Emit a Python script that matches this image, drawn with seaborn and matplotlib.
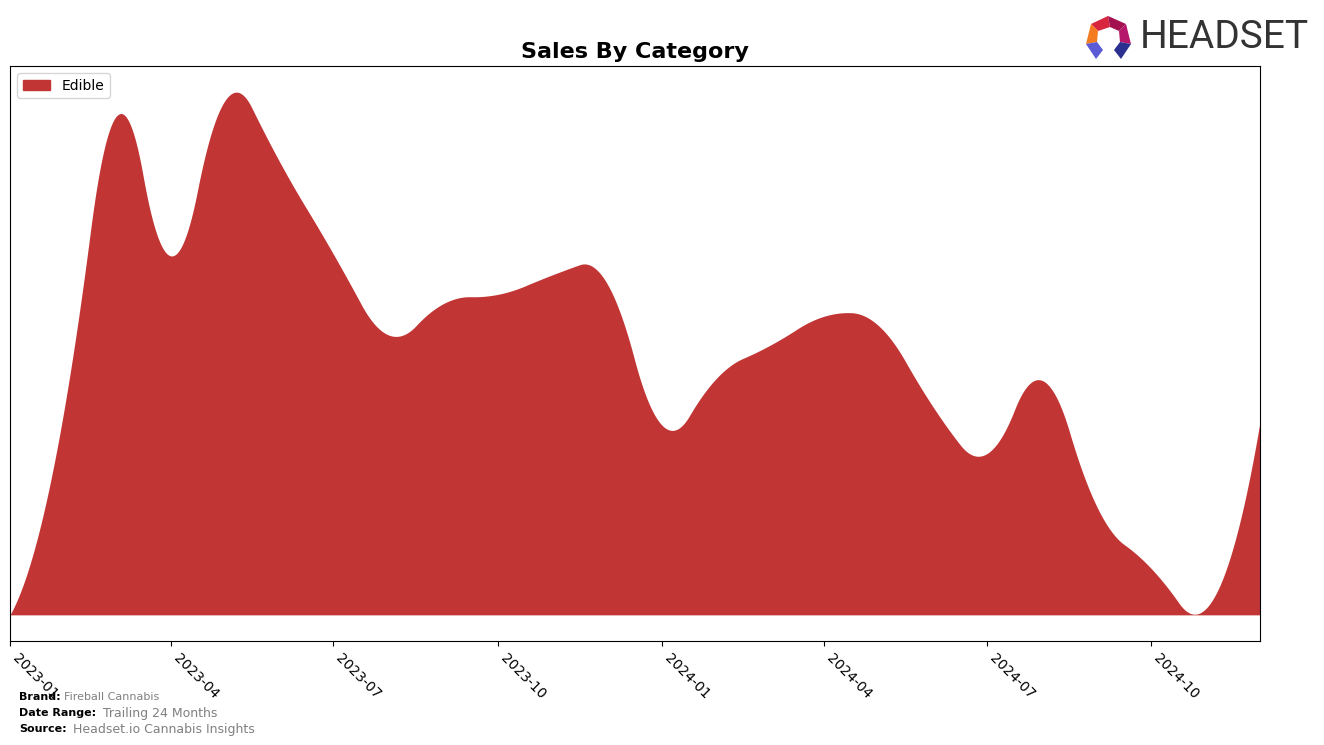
import numpy as np
import pandas as pd
import matplotlib
matplotlib.use("Agg")
import matplotlib.pyplot as plt
import matplotlib.dates as mdates
from matplotlib.patches import Polygon, Patch
import seaborn as sns

# ---- data (monthly sales, Edible) ----
months = pd.date_range("2023-01-01", "2024-12-01", freq="MS")
edible_sales = [0, 21500, 50300, 36300, 51900, 45800, 36500, 28300, 31500, 32400,
                34400, 33600, 19200, 24000, 27200, 30200, 29300, 21000, 16300, 23700,
                10800, 4700, 700, 19500]
category = "Edible"
tick_labels = ["2023-01", "2023-04", "2023-07", "2023-10", "2024-01", "2024-04", "2024-07", "2024-10"]

brand = "Fireball Cannabis"
date_range = "Trailing 24 Months"
source = "Headset.io Cannabis Insights"

color = "#C23535"


# quadratic interpolating B-spline (knots at mid-points), numpy only
def bspline_basis(t, k, x):
    x = np.asarray(x, float)
    B = np.zeros((len(x), len(t) - 1))
    for i in range(len(t) - 1):
        B[:, i] = ((t[i] <= x) & (x < t[i + 1])).astype(float)
    last = np.where(t[:-1] < t[1:])[0][-1]
    B[x >= t[-1], last] = 1.0
    for d in range(1, k + 1):
        Bn = np.zeros((len(x), len(t) - 1 - d))
        for i in range(len(t) - 1 - d):
            term = np.zeros(len(x))
            den1 = t[i + d] - t[i]
            den2 = t[i + d + 1] - t[i + 1]
            if den1 > 0:
                term += (x - t[i]) / den1 * B[:, i]
            if den2 > 0:
                term += (t[i + d + 1] - x) / den2 * B[:, i + 1]
            Bn[:, i] = term
        B = Bn
    return B


xd = mdates.date2num(months.to_pydatetime())
yd = np.array(edible_sales, float)
k = 2
mid = (xd[1:] + xd[:-1]) / 2.0
t = np.r_[(xd[0],) * (k + 1), mid[1:-1], (xd[-1],) * (k + 1)]
coef = np.linalg.solve(bspline_basis(t, k, xd), yd)
xf = np.linspace(xd[0], xd[-1], 1500)
yf = bspline_basis(t, k, xf) @ coef
yf = np.clip(yf, 0, None)

df = pd.DataFrame({"date": mdates.num2date(xf), "sales": yf})
df["date"] = pd.to_datetime(df["date"]).dt.tz_localize(None)

fig = plt.figure(figsize=(13.24, 7.45), dpi=100)
ax = fig.add_axes([10 / 1324, 1 - 641 / 745, 1250 / 1324, 575 / 745])

sns.lineplot(data=df, x="date", y="sales", ax=ax, color=color, linewidth=0)
ax.fill_between(df["date"], 0, df["sales"], color=color, linewidth=0)
ax.set_xlim(months[0], months[-1])
ax.set_ylim(-0.05 * yf.max(), 1.05 * yf.max())
ax.set_yticks([])
ax.set_xlabel("")
ax.set_ylabel("")
ax.set_xticks(pd.to_datetime([s + "-01" for s in tick_labels]))
ax.set_xticklabels(tick_labels, rotation=-45, ha="left", rotation_mode="default", fontsize=10)
ax.set_title("Sales By Category", fontsize=16, fontweight="bold", pad=6)

ax.legend(handles=[Patch(color=color, label=category)], loc="upper left", fontsize=10)

# footer
fs = 8
fig.text(19 / 1324, 1 - 697 / 745, "Brand:", fontsize=fs, fontweight="bold", va="center")
fig.text(64 / 1324, 1 - 697 / 745, brand, fontsize=fs, color="gray", va="center")
fig.text(19 / 1324, 1 - 713 / 745, "Date Range:", fontsize=fs, fontweight="bold", va="center")
fig.text(103 / 1324, 1 - 713 / 745, date_range, fontsize=9, color="gray", va="center")
fig.text(19 / 1324, 1 - 729 / 745, "Source:", fontsize=fs, fontweight="bold", va="center")
fig.text(73 / 1324, 1 - 729 / 745, source, fontsize=9, color="gray", va="center")

# logo
fig.text(1140 / 1324, 1 - 38 / 745, "HEADSET", fontsize=28, color="#333333", va="center",
         ha="left", family=["Roboto", "DejaVu Sans"])


def fpoly(pts, c):
    p = Polygon([(x / 1324, 1 - y / 745) for x, y in pts], closed=True, color=c,
                transform=fig.transFigure, lw=0)
    fig.patches.append(p)


fpoly([(1091, 24), (1108, 16), (1110, 27), (1098, 31)], "#D7263D")
fpoly([(1108, 16), (1126, 24), (1119, 31), (1110, 27)], "#A3124F")
fpoly([(1091, 24), (1098, 31), (1097, 42), (1086, 44)], "#F47B20")
fpoly([(1126, 24), (1131, 44), (1120, 42), (1119, 31)], "#B5176A")
fpoly([(1086, 44), (1097, 42), (1103, 50), (1096, 59)], "#5B5BD6")
fpoly([(1120, 42), (1131, 44), (1121, 59), (1114, 50)], "#2B2F8F")

fig.savefig("out.png", dpi=100)
